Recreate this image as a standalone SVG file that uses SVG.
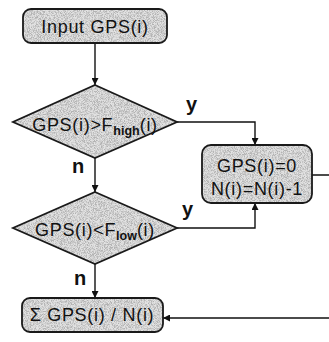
<svg xmlns="http://www.w3.org/2000/svg" width="329" height="342" viewBox="0 0 329 342">
<style>
.fill{fill:#e2e2e2;stroke:none;filter:url(#grain)}
.edge{fill:none;stroke:#1a1a1a;stroke-width:1.8}
.t{font-family:"Liberation Sans",Arial,sans-serif;font-size:18px;fill:#111;text-anchor:middle;letter-spacing:0.7px}
.sub{font-size:12.5px;font-weight:bold;letter-spacing:0}
.lbl{font-family:"Liberation Sans",Arial,sans-serif;font-size:20px;font-weight:bold;fill:#111}
.c{fill:none;stroke:#111;stroke-width:1.4}
</style>
<defs>
<filter id="grain" x="0" y="0" width="100%" height="100%">
<feTurbulence type="fractalNoise" baseFrequency="1.3" numOctaves="1" seed="4" result="noise"/>
<feColorMatrix in="noise" type="matrix" values="0 0 0 0 0.45  0 0 0 0 0.45  0 0 0 0 0.45  4 0 0 0 -1.6" result="dots"/>
<feComposite in="dots" in2="SourceGraphic" operator="in" result="dotsIn"/>
<feMerge><feMergeNode in="SourceGraphic"/><feMergeNode in="dotsIn"/></feMerge>
</filter>
<marker id="ah" viewBox="0 0 10 10" refX="10" refY="5" markerWidth="7" markerHeight="7" orient="auto" markerUnits="userSpaceOnUse">
<path d="M0,0 L10,5 L0,10 z" fill="#111"/>
</marker>
</defs>
<g id="connectors">
<path class="c" d="M95,43 V85" marker-end="url(#ah)"/>
<path class="c" d="M177,122 H255 V145" marker-end="url(#ah)"/>
<path class="c" d="M95,158 V192" marker-end="url(#ah)"/>
<path class="c" d="M177,228 H255 V203" marker-end="url(#ah)"/>
<path class="c" d="M95,264 V298" marker-end="url(#ah)"/>
<path class="c" d="M312,175 H345 V318 H163" marker-end="url(#ah)"/>
<text class="lbl" x="186" y="111">y</text>
<text class="lbl" x="72" y="173">n</text>
<text class="lbl" x="182" y="216">y</text>
<text class="lbl" x="74" y="285">n</text>
</g>
<g id="input">
<rect class="fill" x="23" y="9" width="144" height="34" rx="8"/>
<rect class="edge" x="23" y="9" width="144" height="34" rx="8"/>
<text class="t" x="95" y="33">Input GPS(i)</text>
</g>
<g id="check-high">
<polygon class="fill" points="95,85 177,122 95,158 13,122"/>
<polygon class="edge" points="95,85 177,122 95,158 13,122"/>
<text class="t" x="95" y="131">GPS(i)&gt;F<tspan class="sub" dy="4">high</tspan><tspan dy="-4">(i)</tspan></text>
</g>
<g id="reset">
<rect class="fill" x="202" y="145" width="110" height="58" rx="9"/>
<rect class="edge" x="202" y="145" width="110" height="58" rx="9"/>
<text class="t" x="257" y="172">GPS(i)=0</text>
<text class="t" x="257" y="195">N(i)=N(i)-1</text>
</g>
<g id="check-low">
<polygon class="fill" points="95,192 177,228 95,264 13,228"/>
<polygon class="edge" points="95,192 177,228 95,264 13,228"/>
<text class="t" x="95" y="236">GPS(i)&lt;F<tspan class="sub" dy="4">low</tspan><tspan dy="-4">(i)</tspan></text>
</g>
<g id="average">
<rect class="fill" x="22" y="298" width="141" height="34" rx="8"/>
<rect class="edge" x="22" y="298" width="141" height="34" rx="8"/>
<text class="t" x="92" y="321">Σ GPS(i) / N(i)</text>
</g>
</svg>
